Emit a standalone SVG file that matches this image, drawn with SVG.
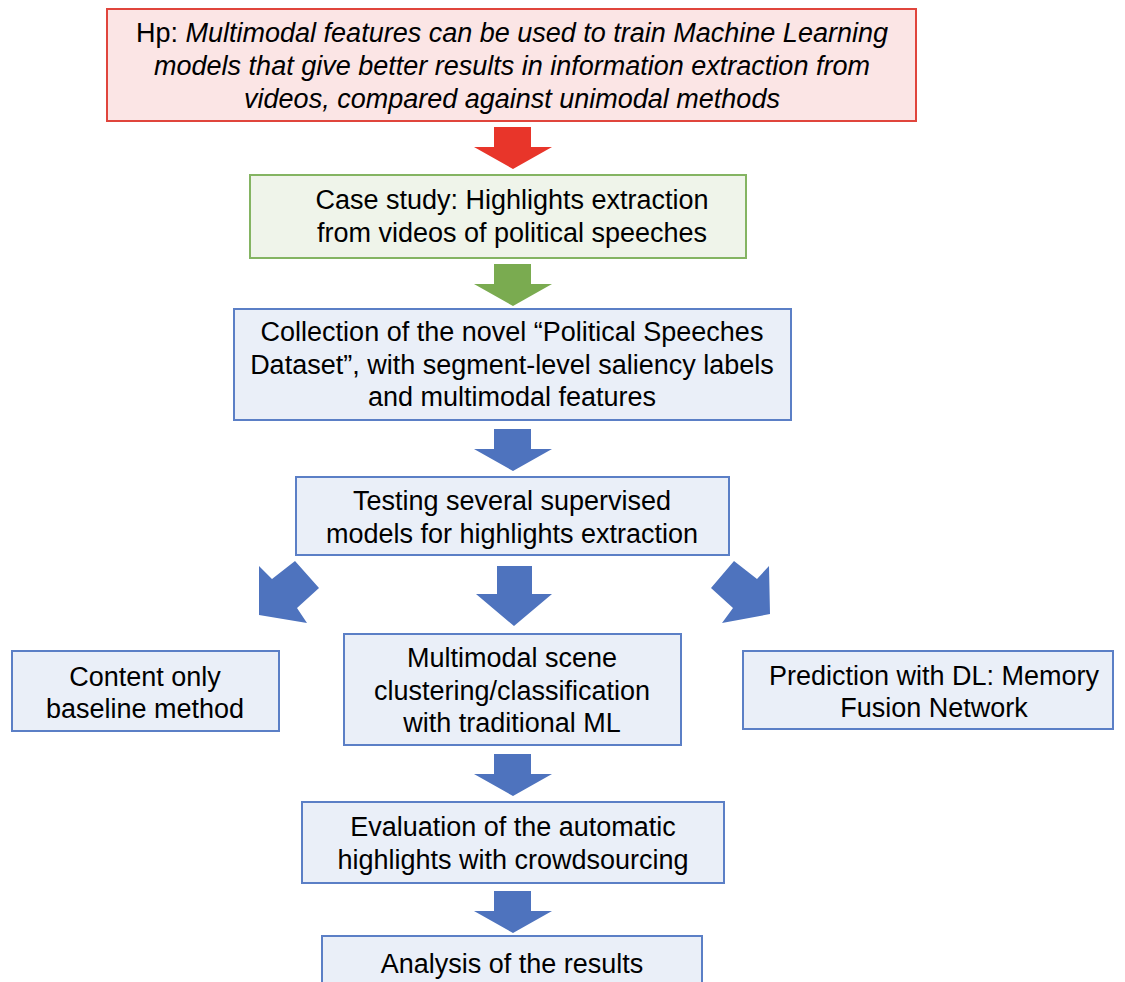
<svg xmlns="http://www.w3.org/2000/svg" width="1125" height="982" viewBox="0 0 1125 982">
<style>
text{font-family:"Liberation Sans",Arial,Helvetica,sans-serif;font-size:27px;fill:#000;text-anchor:middle}
.it{font-style:italic}
.red{fill:#fbe5e5;stroke:#e0453c;stroke-width:2}
.grn{fill:#eff4ea;stroke:#84b462;stroke-width:2}
.blu{fill:#eaeff8;stroke:#5b7fc6;stroke-width:2}
.ar{fill:#4e73be}
</style>
<defs>
<polygon id="dn" points="494,0 531,0 531,20 552,20 513,42 474,20 494,20"/>
</defs>
<rect width="1125" height="982" fill="#fff"/>
<g id="connectors">
<use href="#dn" y="127" fill="#e8352a"/>
<use href="#dn" y="264" fill="#7aab50"/>
<use href="#dn" y="429" class="ar"/>
<polygon class="ar" points="497,566 532,566 532,594 552,594 514,626 476,594 497,594"/>
<polygon class="ar" points="259,566 272,579 295,561 319,588 297,608 307,623 259,615"/>
<polygon class="ar" points="769,566 757,579 734,561 711,588 733,608 722,623 770,614"/>
<use href="#dn" y="754" class="ar"/>
<use href="#dn" y="891" class="ar"/>
</g>
<g id="hypothesis">
<rect class="red" x="107" y="9" width="809" height="112"/>
<text x="512" y="42">Hp: <tspan class="it">Multimodal features can be used to train Machine Learning</tspan></text>
<text x="512" y="75" class="it">models that give better results in information extraction from</text>
<text x="512" y="108" class="it">videos, compared against unimodal methods</text>
</g>
<g id="casestudy">
<rect class="grn" x="250" y="175" width="496" height="83"/>
<text x="512" y="209">Case study: Highlights extraction</text>
<text x="512" y="242">from videos of political speeches</text>
</g>
<g id="collection">
<rect class="blu" x="234" y="309" width="557" height="111"/>
<text x="512" y="341">Collection of the novel “Political Speeches</text>
<text x="512" y="374">Dataset”, with segment-level saliency labels</text>
<text x="512" y="406">and multimodal features</text>
</g>
<g id="testing">
<rect class="blu" x="296" y="477" width="433" height="78"/>
<text x="512" y="510">Testing several supervised</text>
<text x="512" y="543">models for highlights extraction</text>
</g>
<g id="baseline">
<rect class="blu" x="12" y="651" width="267" height="80"/>
<text x="145" y="686">Content only</text>
<text x="145" y="718">baseline method</text>
</g>
<g id="multimodal">
<rect class="blu" x="344" y="634" width="337" height="111"/>
<text x="512" y="667">Multimodal scene</text>
<text x="512" y="700">clustering/classification</text>
<text x="512" y="732">with traditional ML</text>
</g>
<g id="prediction">
<rect class="blu" x="743" y="651" width="370" height="78"/>
<text x="934" y="685">Prediction with DL: Memory</text>
<text x="934" y="717">Fusion Network</text>
</g>
<g id="evaluation">
<rect class="blu" x="302" y="802" width="422" height="81"/>
<text x="513" y="836">Evaluation of the automatic</text>
<text x="513" y="869">highlights with crowdsourcing</text>
</g>
<g id="analysis">
<rect class="blu" x="322" y="936" width="380" height="60"/>
<text x="512" y="973">Analysis of the results</text>
</g>
</svg>
